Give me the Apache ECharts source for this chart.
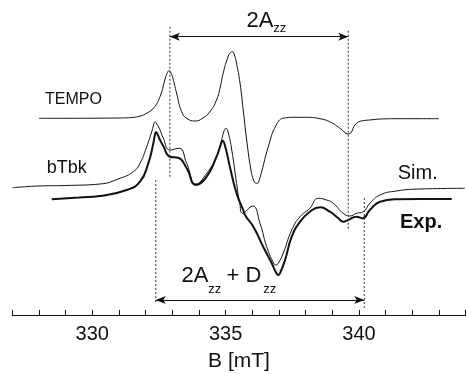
<!DOCTYPE html>
<html><head><meta charset="utf-8">
<script src="https://cdn.jsdelivr.net/npm/echarts@6/dist/echarts.min.js"></script>
<style>html,body{margin:0;padding:0;background:#fff}#c{width:466px;height:374px}</style>
</head><body><div id="c"></div>
<script>
// Field B [mT] and signal height (arbitrary units)
const tempo = [[328.0,196.7],[329.0,196.7],[330.0,196.8],[331.0,197],[331.5,197.5],[331.8,199],[332.05,202],[332.3,207],[332.54,218.3],[332.72,235],[332.8,241.5],[332.88,244.3],[332.95,242],[333.02,237],[333.16,222],[333.35,203.3],[333.55,196.5],[333.85,194],[334.15,197],[334.41,203.3],[334.66,215],[334.8,228],[334.91,242],[335.1,259],[335.18,262.5],[335.26,263.3],[335.33,260],[335.4,253],[335.54,232],[335.66,205],[335.79,175],[335.95,145],[336.06,134],[336.12,132],[336.19,131.7],[336.26,135],[336.35,143],[336.6,168.3],[336.9,190],[337.2,197],[337.6,197.7],[338.0,197.7],[338.5,196.5],[338.9,193.3],[339.29,186.7],[339.6,181],[339.91,191.7],[340.2,194.5],[340.41,195],[340.8,196],[341.5,196.3],[343.0,196.3]];
const sim = [[327.0,127.3],[328.0,129],[329.0,129.5],[330.29,131],[331.04,136.7],[331.54,143.3],[331.79,151.7],[332.04,168.3],[332.23,183.3],[332.3,190],[332.35,193],[332.42,191],[332.54,185],[332.66,177],[332.91,165],[333.26,166.7],[333.54,151.7],[333.89,131],[334.29,141.7],[334.66,158.3],[334.85,175],[334.93,183],[335.01,186.7],[335.09,183],[335.23,165],[335.41,131.7],[335.53,112],[335.64,101.7],[336.01,109],[336.29,91.7],[336.54,68.3],[336.8,52],[336.89,50],[336.98,52],[337.16,61.7],[337.48,85],[337.79,98.3],[338.16,106.7],[338.47,116.7],[338.79,115],[339.04,111.7],[339.41,101.7],[339.66,99],[339.91,101.7],[340.16,103.3],[340.41,111.7],[340.79,120],[341.41,124],[342.29,126],[343.97,126.7]];
const exp = [[328.48,115.7],[329.5,117.5],[330.29,119],[331.29,125],[331.79,133.3],[332.1,151.7],[332.29,171.7],[332.34,179],[332.39,183],[332.45,180.5],[332.54,175],[332.66,169],[332.91,158.3],[333.22,157.3],[333.54,146.7],[333.89,130],[334.29,138.3],[334.66,158.3],[334.8,169],[334.89,174.3],[334.97,170],[335.16,148.3],[335.41,121.7],[335.66,105],[335.75,99],[336.04,88.3],[336.41,68.3],[336.73,51.7],[336.9,42],[336.98,40],[337.06,43],[337.23,55],[337.48,78.3],[337.79,93.3],[338.16,103.3],[338.54,107.7],[338.91,103.3],[339.22,97],[339.41,93.3],[339.6,95],[339.91,98.3],[340.14,96.7],[340.41,105],[340.79,113.3],[341.41,115.7],[342.29,116],[343.48,116]];
// Guide lines: [B, top, bottom]
const guides = [[332.91,288.3,138],[339.6,284.3,84.3],[332.38,135,12],[340.2,117,7.3]];
// Span arrows: [B from, B to, height]
const spans = [[332.91,339.6,278.3],[332.38,340.2,15]];
const majorTicks = [330,335,340];

const font = "'Liberation Sans', Arial, Helvetica, sans-serif";
const chart = echarts.init(document.getElementById('c'));
const curve = (d,w) => ({type:'line',data:d,symbol:'none',smooth:0.5,lineStyle:{color:'#111',width:w},silent:true});
const series = [curve(tempo,1),curve(sim,1),curve(exp,2)];
guides.forEach(g => series.push({type:'line',data:[[g[0],g[1]],[g[0],g[2]]],symbol:'none',lineStyle:{color:'#333',width:1,type:[2,2]},silent:true}));
series.push({type:'line',data:[],silent:true,markLine:{silent:true,symbol:['arrow','arrow'],symbolSize:[6,10],label:{show:false},lineStyle:{color:'#111',width:1,type:'solid'},
  data: spans.map(s => [{coord:[s[0],s[2]]},{coord:[s[1],s[2]]}])}});
const txt = (t,x,y,size,weight) => ({type:'text',left:x,top:y,silent:true,style:{text:t,fontSize:size,fontFamily:font,fontWeight:weight||'normal',fill:'#111'}});
chart.setOption({
  animation:false,
  grid:{left:12.3,right:0.4,top:0,bottom:59,outerBoundsMode:'none'},
  xAxis:[{type:'value',min:327,max:344,interval:1,
     axisLine:{lineStyle:{color:'#111',width:1}},
     axisTick:{inside:true,length:3,lineStyle:{color:'#111'}},
     axisLabel:{margin:9,fontSize:20,fontFamily:font,color:'#111',formatter:v => majorTicks.includes(v)?String(v):''},
     splitLine:{show:false},
     name:'B [mT]',nameLocation:'middle',nameGap:36,nameTextStyle:{fontSize:21,fontFamily:font,color:'#111'}},
    {type:'value',min:327,max:344,interval:1,position:'bottom',
     axisLine:{show:false},axisLabel:{show:false},splitLine:{show:false},
     axisTick:{inside:true,length:5,lineStyle:{color:'#111'},interval:(i,v)=>majorTicks.includes(Number(v))}}],
  yAxis:{type:'value',min:0,max:315,show:false},
  series:series,
  graphic:[
    txt('2A',246.5,10,22), txt('zz',273.3,22,13),
    txt('2A',181.5,265,22), txt('zz',208.3,283,13), txt('+ D',226.5,265,22), txt('zz',263.3,283,13),
    txt('TEMPO',45,92,16), txt('bTbk',46.7,159,18),
    txt('Sim.',397.7,163,20), txt('Exp.',400,212,20,'bold')
  ]
});
</script></body></html>
